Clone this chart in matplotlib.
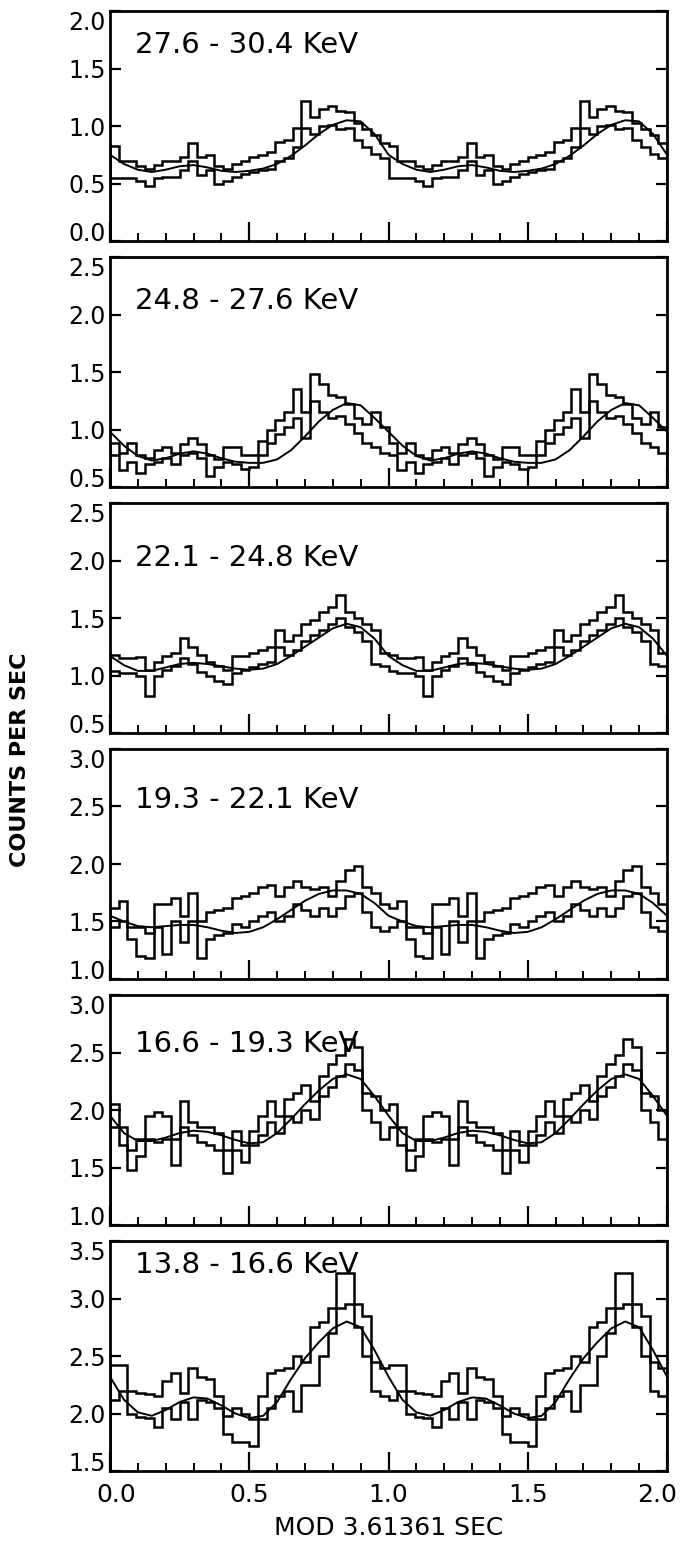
import numpy as np
import matplotlib
matplotlib.use("Agg")
import matplotlib.pyplot as plt
from matplotlib.ticker import MultipleLocator
from matplotlib.transforms import ScaledTranslation

plt.rcParams['font.family'] = ['DejaVu Sans']

# ---------------- data (one period, repeated twice on 0..2) ----------------
labels = ["27.6 - 30.4 KeV", "24.8 - 27.6 KeV", "22.1 - 24.8 KeV",
          "19.3 - 22.1 KeV", "16.6 - 19.3 KeV", "13.8 - 16.6 KeV"]
ylims = [(0.0, 2.0), (0.5, 2.5), (0.5, 2.5), (1.0, 3.0), (1.0, 3.0), (1.5, 3.5)]

# 32 phase bins per period: upper / lower histogram levels
upper_1 = [0.83, 0.70, 0.70, 0.65, 0.63, 0.66, 0.70, 0.70, 0.73, 0.85, 0.73, 0.75,
           0.65, 0.63, 0.67, 0.70, 0.73, 0.75, 0.77, 0.86, 0.88, 0.98, 1.22, 1.08,
           1.15, 1.17, 1.13, 1.12, 1.03, 0.97, 0.92, 0.85]
lower_1 = [0.55, 0.55, 0.55, 0.52, 0.48, 0.55, 0.56, 0.56, 0.62, 0.70, 0.57, 0.62,
           0.50, 0.52, 0.56, 0.58, 0.60, 0.62, 0.63, 0.70, 0.72, 0.82, 0.98, 0.93,
           1.00, 1.01, 0.97, 0.98, 0.88, 0.82, 0.76, 0.72]

upper_2 = [0.88, 0.80, 0.88, 0.78, 0.75, 0.82, 0.85, 0.80, 0.87, 0.93, 0.87, 0.78,
           0.74, 0.85, 0.85, 0.78, 0.78, 0.90, 1.00, 1.08, 1.15, 1.35, 1.15, 1.48,
           1.40, 1.30, 1.28, 1.22, 1.10, 1.05, 1.15, 1.02]
lower_2 = [0.78, 0.65, 0.72, 0.62, 0.70, 0.72, 0.75, 0.70, 0.78, 0.80, 0.75, 0.60,
           0.67, 0.72, 0.70, 0.66, 0.67, 0.78, 0.88, 0.96, 1.02, 1.10, 0.93, 1.25,
           1.15, 1.10, 1.12, 1.05, 0.97, 0.88, 0.85, 0.80]

upper_3 = [1.18, 1.15, 1.15, 1.16, 1.05, 1.12, 1.17, 1.20, 1.33, 1.25, 1.18, 1.12,
           1.08, 1.05, 1.17, 1.17, 1.20, 1.22, 1.25, 1.40, 1.30, 1.35, 1.45, 1.48,
           1.55, 1.60, 1.70, 1.55, 1.50, 1.45, 1.40, 1.20]
lower_3 = [1.04, 1.02, 1.02, 1.00, 0.82, 1.00, 1.05, 1.08, 1.15, 1.10, 1.03, 1.00,
           0.95, 0.93, 1.02, 1.05, 1.07, 1.10, 1.12, 1.25, 1.18, 1.22, 1.30, 1.35,
           1.40, 1.45, 1.50, 1.42, 1.38, 1.30, 1.10, 1.08]

upper_4 = [1.62, 1.68, 1.45, 1.45, 1.40, 1.65, 1.65, 1.70, 1.55, 1.75, 1.50, 1.58,
           1.60, 1.62, 1.70, 1.72, 1.75, 1.80, 1.82, 1.72, 1.80, 1.85, 1.80, 1.78,
           1.80, 1.72, 1.85, 1.95, 1.98, 1.80, 1.75, 1.65]
lower_4 = [1.45, 1.50, 1.35, 1.20, 1.18, 1.45, 1.22, 1.50, 1.32, 1.50, 1.18, 1.35,
           1.38, 1.40, 1.48, 1.45, 1.50, 1.55, 1.58, 1.50, 1.55, 1.65, 1.60, 1.55,
           1.62, 1.55, 1.62, 1.72, 1.75, 1.58, 1.45, 1.42]

upper_5 = [2.05, 1.85, 1.65, 1.75, 1.95, 1.98, 1.95, 1.75, 2.08, 1.90, 1.85, 1.85,
           1.80, 1.65, 1.82, 1.70, 1.82, 1.95, 2.08, 1.95, 2.10, 2.15, 2.22, 2.08,
           2.30, 2.40, 2.48, 2.62, 2.55, 2.15, 2.12, 2.00]
lower_5 = [1.85, 1.70, 1.48, 1.60, 1.75, 1.72, 1.75, 1.52, 1.85, 1.78, 1.72, 1.70,
           1.65, 1.45, 1.65, 1.55, 1.70, 1.78, 1.90, 1.80, 1.95, 1.90, 2.00, 1.92,
           2.12, 2.20, 2.30, 2.40, 2.35, 2.00, 1.90, 1.75]

upper_6 = [2.42, 2.42, 2.20, 2.18, 2.17, 2.15, 2.28, 2.35, 2.18, 2.40, 2.32, 2.30,
           2.15, 1.98, 2.05, 2.00, 1.95, 2.15, 2.35, 2.38, 2.40, 2.50, 2.45, 2.75,
           2.80, 2.92, 3.22, 3.22, 2.95, 2.85, 2.45, 2.40]
lower_6 = [2.12, 2.20, 2.00, 1.97, 1.96, 1.88, 2.05, 1.95, 2.10, 1.95, 2.12, 2.10,
           2.05, 1.82, 1.75, 1.75, 1.72, 1.95, 2.05, 2.15, 2.20, 2.02, 2.25, 2.25,
           2.50, 2.70, 2.92, 2.95, 2.75, 2.50, 2.20, 2.15]

# smooth fitted curve, sampled every 0.05 in phase (0 .. 1)
curve_phase = [0.00, 0.05, 0.10, 0.15, 0.20, 0.25, 0.30, 0.35, 0.40, 0.45, 0.50,
               0.55, 0.60, 0.65, 0.70, 0.75, 0.80, 0.85, 0.90, 0.95, 1.00]
curve_1 = [0.75, 0.67, 0.62, 0.60, 0.62, 0.65, 0.66, 0.64, 0.61, 0.60, 0.61,
           0.63, 0.67, 0.74, 0.83, 0.93, 1.01, 1.05, 1.04, 0.93, 0.75]
curve_2 = [0.98, 0.86, 0.77, 0.73, 0.75, 0.79, 0.81, 0.79, 0.75, 0.72, 0.71,
           0.71, 0.74, 0.82, 0.94, 1.07, 1.17, 1.23, 1.21, 1.10, 0.98]
curve_3 = [1.17, 1.09, 1.04, 1.04, 1.07, 1.10, 1.11, 1.10, 1.08, 1.06, 1.05,
           1.06, 1.10, 1.17, 1.25, 1.33, 1.41, 1.45, 1.42, 1.32, 1.17]
curve_4 = [1.55, 1.50, 1.46, 1.45, 1.46, 1.47, 1.47, 1.45, 1.42, 1.40, 1.41,
           1.45, 1.52, 1.60, 1.68, 1.74, 1.77, 1.77, 1.74, 1.66, 1.55]
curve_5 = [1.95, 1.80, 1.73, 1.73, 1.76, 1.80, 1.82, 1.81, 1.78, 1.74, 1.71,
           1.72, 1.80, 1.92, 2.05, 2.17, 2.27, 2.31, 2.27, 2.12, 1.95]
curve_6 = [2.32, 2.12, 2.01, 1.98, 2.03, 2.10, 2.14, 2.13, 2.07, 2.00, 1.96,
           1.98, 2.10, 2.30, 2.48, 2.62, 2.74, 2.80, 2.75, 2.55, 2.32]

uppers = [upper_1, upper_2, upper_3, upper_4, upper_5, upper_6]
lowers = [lower_1, lower_2, lower_3, lower_4, lower_5, lower_6]
curves = [curve_1, curve_2, curve_3, curve_4, curve_5, curve_6]

xticklabels = ["0.0", "0.5", "1.0", "1.5", "2.0"]
xlabel = "MOD 3.61361 SEC"
ylabel = "COUNTS PER SEC"

# ---------------- figure ----------------
W, H = 682, 1550
fig = plt.figure(figsize=(W / 100, H / 100), dpi=100)
fig.patch.set_facecolor("white")

left_px, right_px = 110, 667
panel_h, step = 230, 246
top0 = 11
label_y = [0.915, 0.87, 0.82, 0.84, 0.85, 0.955]

nb = len(upper_1)
edges = np.linspace(0.0, 2.0, 2 * nb + 1)
cx = np.concatenate([np.array(curve_phase), np.array(curve_phase[1:]) + 1.0])

for i in range(6):
    top = top0 + i * step
    rect = [left_px / W, 1 - (top + panel_h) / H, (right_px - left_px) / W, panel_h / H]
    ax = fig.add_axes(rect)
    up = np.array(uppers[i] * 2)
    lo = np.array(lowers[i] * 2)
    cy = np.concatenate([np.array(curves[i]), np.array(curves[i][1:])])
    ax.stairs(up, edges, color="black", lw=1.8)
    ax.stairs(lo, edges, color="black", lw=1.8)
    ax.plot(cx, cy, color="black", lw=1.4)

    y0, y1 = ylims[i]
    ax.set_xlim(0, 2)
    ax.set_ylim(y0, y1)
    for s in ax.spines.values():
        s.set_linewidth(2.0)

    yt = np.arange(y0, y1 + 0.01, 0.5)
    ax.set_yticks(yt)
    ax.set_yticklabels([f"{v:.1f}" for v in yt])
    ax.tick_params(axis="y", which="major", direction="in", length=8, width=1.6,
                   left=True, right=True, labelsize=17, pad=3)
    ylabs = ax.get_yticklabels()
    ylabs[0].set_verticalalignment("baseline")
    ylabs[-1].set_verticalalignment("top")

    ax.xaxis.set_major_locator(MultipleLocator(0.5))
    ax.xaxis.set_minor_locator(MultipleLocator(0.1))
    ax.tick_params(axis="x", which="major", direction="in", length=14, width=1.6,
                   top=False, bottom=True)
    ax.tick_params(axis="x", which="minor", direction="in", length=6, width=1.4,
                   top=False, bottom=True)
    if i < 5:
        ax.tick_params(axis="x", labelbottom=False)
    else:
        ax.set_xticks([0, 0.5, 1.0, 1.5, 2.0])
        ax.set_xticklabels(xticklabels, fontsize=18)
        ax.tick_params(axis="x", pad=9)
        xl = ax.get_xticklabels()
        xl[-1].set_transform(xl[-1].get_transform()
                             + ScaledTranslation(-10 / 100, 0, fig.dpi_scale_trans))
        xl[0].set_transform(xl[0].get_transform()
                            + ScaledTranslation(6 / 100, 0, fig.dpi_scale_trans))
        ax.set_xlabel(xlabel, fontsize=18, labelpad=6)

    ax.text(0.045, label_y[i], labels[i], transform=ax.transAxes, fontsize=21,
            ha="left", va="top")

fig.text(20 / W, 1 - 760 / H, ylabel, rotation=90, ha="center", va="center",
         fontsize=16, fontweight="bold")

fig.savefig("out.png", dpi=100, facecolor="white")
